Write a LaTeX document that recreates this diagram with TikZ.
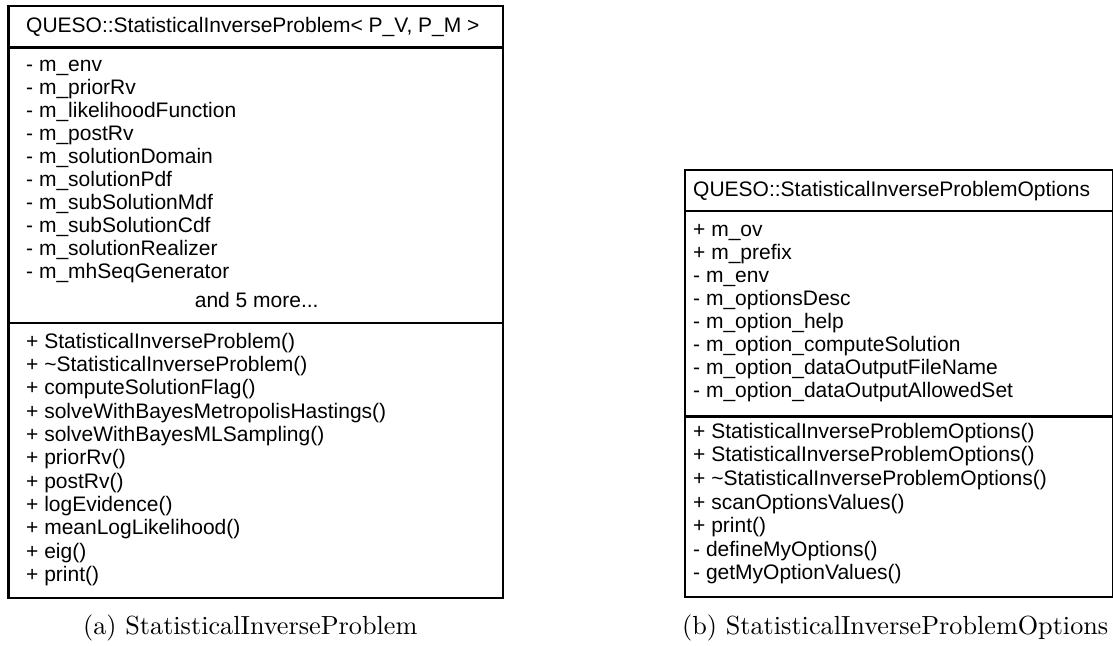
\documentclass[tikz,border=0pt]{standalone}
\usepackage{fontspec}
\newfontfamily\umlfont{Liberation Sans}
\begin{document}
\begin{tikzpicture}[x=1pt,y=-1pt,
  classbox/.style={draw,line width=2.2pt},
  sepline/.style={line width=2.2pt},
  umltext/.style={anchor=base west,inner sep=0pt,font=\umlfont\fontsize{21}{25}\selectfont},
  morelabel/.style={anchor=base,inner sep=0pt,font=\umlfont\fontsize{21}{25}\selectfont},
  captext/.style={anchor=base west,inner sep=0pt,font=\fontsize{10}{12}\selectfont}]
\useasboundingbox (0,0) rectangle (1113,645);

% ---------- left class ----------
\draw[classbox] (8.5,6) rectangle (503,598);
\draw[sepline] (8.5,47.5) -- (503,47.5);
\draw[sepline] (8.5,322.7) -- (503,322.7);
\node[umltext] (lhead) at (26,32) {QUESO::StatisticalInverseProblem< P\_V, P\_M >};
\foreach \t [count=\i from 0] in {- m\_env, - m\_priorRv, - m\_likelihoodFunction, - m\_postRv, - m\_solutionDomain, - m\_solutionPdf, - m\_subSolutionMdf, - m\_subSolutionCdf, - m\_solutionRealizer, - m\_mhSeqGenerator}
  \node[umltext] (la\i) at (26,71.7+23*\i) {\t};
\node[morelabel] (lmore) at (256.7,307) {and 5 more...};
\foreach \t [count=\i from 0] in {+ StatisticalInverseProblem(), + \textasciitilde StatisticalInverseProblem(), + computeSolutionFlag(), + solveWithBayesMetropolisHastings(), + solveWithBayesMLSampling(), + priorRv(), + postRv(), + logEvidence(), + meanLogLikelihood(), + eig(), + print()}
  \node[umltext] (lm\i) at (26,348.3+23.3*\i) {\t};

% ---------- right class ----------
\draw[classbox] (685,170) rectangle (1113,597);
\draw[sepline] (685,211) -- (1113,211);
\draw[sepline] (685,416.5) -- (1113,416.5);
\node[umltext] (rhead) at (693,196.7) {QUESO::StatisticalInverseProblemOptions};
\foreach \t [count=\i from 0] in {+ m\_ov, + m\_prefix, - m\_env, - m\_optionsDesc, - m\_option\_help, - m\_option\_computeSolution, - m\_option\_dataOutputFileName, - m\_option\_dataOutputAllowedSet}
  \node[umltext] (ra\i) at (693,236.7+23*\i) {\t};
\foreach \t [count=\i from 0] in {+ StatisticalInverseProblemOptions(), + StatisticalInverseProblemOptions(), + \textasciitilde StatisticalInverseProblemOptions(), + scanOptionsValues(), + print(), - defineMyOptions(), - getMyOptionValues()}
  \node[umltext] (rm\i) at (693,438.3+23.6*\i) {\t};

% ---------- captions ----------
\node[captext] (capa) at (83,634) {\scalebox{2.62}{(a) StatisticalInverseProblem}};
\node[captext] (capb) at (682,634) {\scalebox{2.62}{(b) StatisticalInverseProblemOptions}};
\end{tikzpicture}
\end{document}
